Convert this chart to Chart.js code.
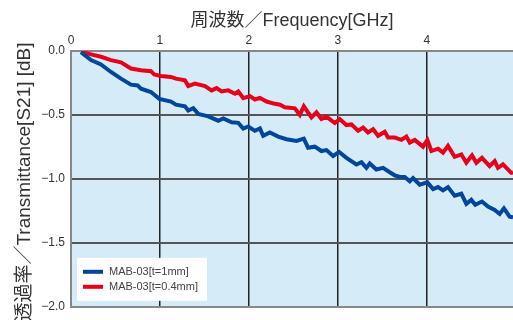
<!DOCTYPE html>
<html>
<head>
<meta charset="utf-8">
<script src="https://cdn.jsdelivr.net/npm/chart.js@4/dist/chart.umd.min.js"></script>
<style>
  html, body { margin: 0; padding: 0; background: #fff; }
  #wrap { width: 513px; height: 320px; }
</style>
</head>
<body>
<div id="wrap"><canvas id="chart" width="513" height="320"></canvas></div>
<script>
// MAB-03 t=1mm
const freq1mm = [0.112, 0.225, 0.337, 0.449, 0.562, 0.674, 0.749, 0.787, 0.899, 0.993, 1.124, 1.18, 1.281, 1.319, 1.375, 1.431, 1.543, 1.656, 1.712, 1.806, 1.881, 1.937, 1.993, 2.068, 2.124, 2.161, 2.236, 2.33, 2.423, 2.535, 2.618, 2.666, 2.741, 2.816, 2.872, 2.947, 3.015, 3.097, 3.209, 3.266, 3.322, 3.359, 3.434, 3.509, 3.584, 3.64, 3.7, 3.752, 3.809, 3.846, 3.921, 4.007, 4.071, 4.127, 4.183, 4.239, 4.314, 4.389, 4.445, 4.501, 4.546, 4.621, 4.689, 4.764, 4.82, 4.868, 4.932, 4.97];
const s21_1mm = [-0.010, -0.071, -0.105, -0.164, -0.216, -0.263, -0.269, -0.295, -0.321, -0.374, -0.395, -0.420, -0.432, -0.466, -0.448, -0.492, -0.511, -0.545, -0.527, -0.558, -0.562, -0.606, -0.590, -0.624, -0.606, -0.663, -0.637, -0.669, -0.690, -0.703, -0.685, -0.756, -0.748, -0.782, -0.775, -0.821, -0.790, -0.835, -0.887, -0.869, -0.914, -0.879, -0.927, -0.914, -0.948, -0.972, -0.985, -0.985, -1.019, -0.993, -1.045, -1.027, -1.080, -1.064, -1.090, -1.064, -1.132, -1.116, -1.195, -1.164, -1.203, -1.177, -1.216, -1.243, -1.274, -1.230, -1.295, -1.300];

// MAB-03 t=0.4mm
const freq04mm = [0.112, 0.225, 0.337, 0.449, 0.562, 0.674, 0.787, 0.899, 0.936, 1.011, 1.124, 1.18, 1.281, 1.319, 1.393, 1.506, 1.581, 1.637, 1.693, 1.768, 1.843, 1.881, 1.937, 2.012, 2.068, 2.124, 2.199, 2.292, 2.35, 2.404, 2.517, 2.573, 2.618, 2.704, 2.76, 2.816, 2.872, 2.966, 3.022, 3.097, 3.153, 3.228, 3.284, 3.34, 3.397, 3.453, 3.528, 3.565, 3.64, 3.715, 3.771, 3.809, 3.865, 3.958, 4.007, 4.052, 4.127, 4.183, 4.239, 4.314, 4.389, 4.445, 4.509, 4.558, 4.621, 4.707, 4.764, 4.801, 4.857, 4.951, 4.97];
const s21_04mm = [-0.006, -0.026, -0.045, -0.071, -0.089, -0.137, -0.150, -0.158, -0.184, -0.195, -0.203, -0.216, -0.229, -0.274, -0.255, -0.274, -0.308, -0.290, -0.316, -0.308, -0.334, -0.316, -0.369, -0.353, -0.379, -0.366, -0.395, -0.413, -0.420, -0.440, -0.448, -0.500, -0.432, -0.519, -0.479, -0.532, -0.513, -0.563, -0.532, -0.579, -0.574, -0.624, -0.598, -0.637, -0.611, -0.663, -0.632, -0.677, -0.677, -0.695, -0.669, -0.716, -0.695, -0.748, -0.695, -0.782, -0.764, -0.795, -0.742, -0.827, -0.808, -0.874, -0.816, -0.874, -0.835, -0.900, -0.861, -0.914, -0.887, -0.953, -0.950];

const seriesNames = ['MAB-03[t=1mm]', 'MAB-03[t=0.4mm]'];
const seriesColors = ['#00469b', '#e60019'];
const yTicks = [0, -0.5, -1.0, -1.5, -2.0];
const yTitle = '透過率／Transmittance[S21] [dB]';

const toPoints = (xs, ys) => xs.map((x, i) => ({x: x, y: ys[i]}));

const FONT = "'Liberation Sans', 'Noto Sans CJK JP', sans-serif";

// light blue plot background
const plotBg = {
	id: 'plotBg',
	beforeDraw(chart) {
		const {ctx, chartArea: a} = chart;
		ctx.save();
		ctx.fillStyle = '#d5ebf8';
		ctx.fillRect(a.left, a.top, a.right - a.left, a.bottom - a.top);
		ctx.restore();
	}
};

// vertical axis title, sits a bit below the plot centre and runs off the bottom
const sideTitle = {
	id: 'sideTitle',
	afterDraw(chart) {
		const {ctx} = chart;
		ctx.save();
		ctx.translate(25, 182);
		ctx.rotate(-Math.PI / 2);
		ctx.fillStyle = '#333';
		ctx.font = '19px ' + FONT;
		ctx.textAlign = 'center';
		ctx.textBaseline = 'middle';
		ctx.fillText(yTitle, 0, 0);
		ctx.restore();
	}
};

// legend box sitting inside the lower left of the plot
const boxLegend = {
	id: 'boxLegend',
	afterDraw(chart) {
		const {ctx, chartArea: a} = chart;
		const x0 = a.left + 6, y0 = a.bottom - 49;
		ctx.save();
		ctx.fillStyle = '#fff';
		ctx.fillRect(x0, y0, 130, 43);
		chart.data.datasets.forEach((ds, i) => {
			const y = y0 + 14 + i * 15;
			ctx.strokeStyle = ds.borderColor;
			ctx.lineWidth = 4;
			ctx.beginPath();
			ctx.moveTo(x0 + 6, y);
			ctx.lineTo(x0 + 26, y);
			ctx.stroke();
			ctx.fillStyle = '#444';
			ctx.font = '11px ' + FONT;
			ctx.textBaseline = 'middle';
			ctx.fillText(ds.label, x0 + 32, y);
		});
		ctx.restore();
	}
};

new Chart(document.getElementById('chart'), {
	type: 'line',
	data: {
		datasets: [
			{label: seriesNames[0], data: toPoints(freq1mm, s21_1mm), borderColor: seriesColors[0]},
			{label: seriesNames[1], data: toPoints(freq04mm, s21_04mm), borderColor: seriesColors[1]}
		]
	},
	options: {
		responsive: false,
		animation: false,
		devicePixelRatio: 1,
		layout: {padding: 0},
		elements: {
			line: {borderWidth: 4, tension: 0},
			point: {radius: 0}
		},
		plugins: {
			legend: {display: false},
			tooltip: {enabled: false}
		},
		scales: {
			x: {
				type: 'linear',
				position: 'top',
				min: 0,
				max: 4.97,
				afterBuildTicks: (scale) => {
					scale.ticks = scale.ticks.filter(t => Number.isInteger(t.value));
				},
				afterFit: (scale) => { scale.height = 51; },
				ticks: {stepSize: 1, color: '#333', padding: 3, font: {family: FONT, size: 12}},
				grid: {
					color: (c) => c.tick && c.tick.value === 0 ? '#888' : '#222',
					lineWidth: 1.5,
					drawTicks: false
				},
				border: {color: '#888', width: 2},
				title: {
					display: true,
					text: '周波数／Frequency[GHz]',
					color: '#333',
					font: {family: FONT, size: 18},
					padding: {top: 10, bottom: 0}
				}
			},
			y: {
				min: -2,
				max: 0,
				afterBuildTicks: (scale) => {
					scale.ticks = yTicks.map(v => ({value: v}));
				},
				afterFit: (scale) => { scale.width = 71; },
				ticks: {
					color: '#333',
					padding: 6,
					font: {family: FONT, size: 12},
					callback: (v) => v === 0 ? '0.0' : '\u2212' + Math.abs(v).toFixed(1)
				},
				grid: {
					color: (c) => c.tick && (c.tick.value === 0 || c.tick.value === -2) ? '#888' : '#555',
					lineWidth: 2,
					drawTicks: false
				},
				border: {color: '#888', width: 2}
			}
		}
	},
	plugins: [plotBg, sideTitle, boxLegend]
});
</script>
</body>
</html>
